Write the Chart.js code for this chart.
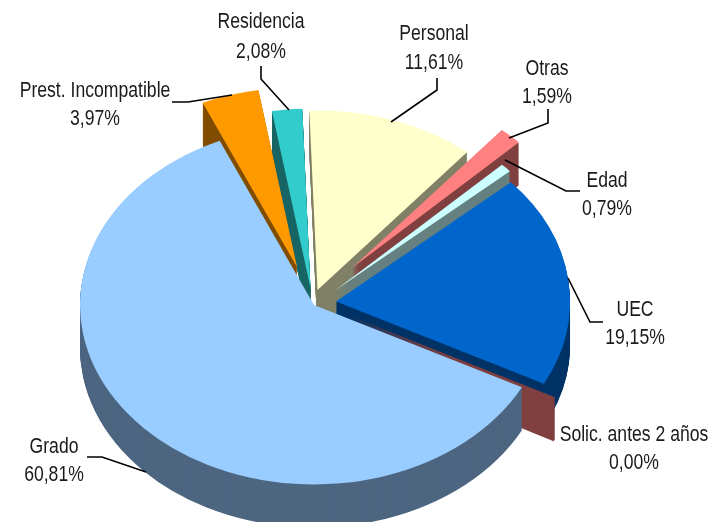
<!DOCTYPE html>
<html>
<head>
<meta charset="utf-8">
<style>
    html, body { margin: 0; padding: 0; background: #fff; }
    canvas { display: block; }
</style>
<script src="https://cdn.jsdelivr.net/npm/chart.js@4/dist/chart.umd.min.js"></script>
</head>
<body>
<canvas id="pie3d" width="711" height="522"></canvas>
<script>
// Chart data
const categories = ["Personal", "Otras", "Edad", "UEC", "Solic. antes 2 años", "Grado", "Prest. Incompatible", "Residencia"];
const shares     = [11.61, 1.59, 0.79, 19.15, 0.00, 60.81, 3.97, 2.08];

// Looks
const topColors  = ["#FFFFCC", "#FF8080", "#CCFFFF", "#0066CC", "#FF8080", "#99CCFF", "#FF9900", "#33CCCC"];
const wallColors = ["#808066", "#804040", "#668080", "#003366", "#804040", "#4D6680", "#804D00", "#1A6666"];
// how far each slice is pulled from the centre, in screen pixels
const pullX = [-0.5, 34, 17, 18, 29, -4, -21, -7.5];
const pullY = [-12, -34, -11.6, -0.5, 12, 3, -35, -14];

const TILT = 0.767;
const DEPTH = 43;
const RADIUS = 234;
const FONT = '22px "Liberation Sans", Arial, sans-serif';
const NARROW = 0.8; // no Arial Narrow here, squeeze the regular face

// Where each label goes: text centre x, first line y, second line y, leader line
const labelLayout = [
    { x: 434, y1: 34,  y2: 63,  leader: [[437, 78], [437, 90], [391, 122]] },
    { x: 547, y1: 69,  y2: 97,  leader: [[548, 109], [548, 123], [509, 138]] },
    { x: 607, y1: 181, y2: 209, leader: [[580, 191], [566, 191], [505, 160]] },
    { x: 635, y1: 310, y2: 338, leader: [[603, 322], [590, 322], [568, 278]] },
    { x: 634, y1: 435, y2: 463, leader: [] },
    { x: 54,  y1: 447, y2: 475, leader: [[87, 457], [102, 457], [146, 472]] },
    { x: 95,  y1: 91,  y2: 119, leader: [[172, 102], [188, 102], [232, 95]] },
    { x: 261, y1: 22,  y2: 52,  leader: [[261, 66], [261, 79], [289, 110]] }
];

function flatten(ctx, cy){
    ctx.translate(0, cy);
    ctx.scale(1, TILT);
    ctx.translate(0, -cy);
}

function narrowText(ctx, text, x, y){
    ctx.save();
    ctx.translate(x, y);
    ctx.scale(NARROW, 1);
    ctx.fillText(text, 0, 0);
    ctx.restore();
}

const pie3d = {
    id: "pie3d",

    // pull the slices apart
    afterDatasetsUpdate(chart){
        chart.getDatasetMeta(0).data.forEach((arc, i) => {
            arc.x += pullX[i];
            arc.y += pullY[i] / TILT;
        });
    },

    // side walls first, back slices before front ones, then squash the tops
    beforeDatasetsDraw(chart){
        const ctx = chart.ctx;
        const cy = (chart.chartArea.top + chart.chartArea.bottom) / 2;
        const arcs = chart.getDatasetMeta(0).data
            .map((arc, i) => ({ arc, i }))
            .sort((a, b) => Math.sin(a.arc.startAngle + a.arc.circumference / 2)
                          - Math.sin(b.arc.startAngle + b.arc.circumference / 2));

        ctx.save();
        flatten(ctx, cy);
        arcs.forEach(({ arc, i }) => {
            const saved = { options: arc.options, circumference: arc.circumference, endAngle: arc.endAngle };
            arc.options = Object.assign({}, arc.options, { backgroundColor: wallColors[i], borderWidth: 0 });
            // a 0% slice has no top but its wall still shows
            if(arc.circumference === 0){
                arc.circumference = 0.012;
                arc.endAngle = arc.startAngle + 0.012;
            }
            for(let d = DEPTH; d >= 1; d--){
                ctx.save();
                ctx.translate(0, d / TILT);
                arc.draw(ctx);
                ctx.restore();
            }
            Object.assign(arc, saved);
        });
        ctx.restore();

        ctx.save();
        flatten(ctx, cy);
    },

    afterDatasetsDraw(chart){
        chart.ctx.restore();
    },

    afterDraw(chart){
        const ctx = chart.ctx;
        ctx.save();
        ctx.strokeStyle = "#000";
        ctx.lineWidth = 1.6;
        ctx.fillStyle = "#1a1a1a";
        ctx.font = FONT;
        ctx.textAlign = "center";
        ctx.textBaseline = "middle";
        labelLayout.forEach((label, i) => {
            narrowText(ctx, categories[i], label.x, label.y1);
            narrowText(ctx, shares[i].toFixed(2).replace(".", ",") + "%", label.x, label.y2);
            if(label.leader.length){
                ctx.beginPath();
                label.leader.forEach((p, n) => n ? ctx.lineTo(p[0], p[1]) : ctx.moveTo(p[0], p[1]));
                ctx.stroke();
            }
        });
        ctx.restore();
    }
};

new Chart(document.getElementById("pie3d"), {
    type: "pie",
    data: {
        labels: categories,
        datasets: [{
            data: shares,
            backgroundColor: topColors,
            borderWidth: 0,
            clip: false
        }]
    },
    options: {
        responsive: false,
        animation: false,
        rotation: -2,
        radius: RADIUS,
        layout: { padding: { right: 75, top: 82 } },
        events: [],
        plugins: {
            legend: { display: false },
            tooltip: { enabled: false }
        }
    },
    plugins: [pie3d]
});
</script>
</body>
</html>
